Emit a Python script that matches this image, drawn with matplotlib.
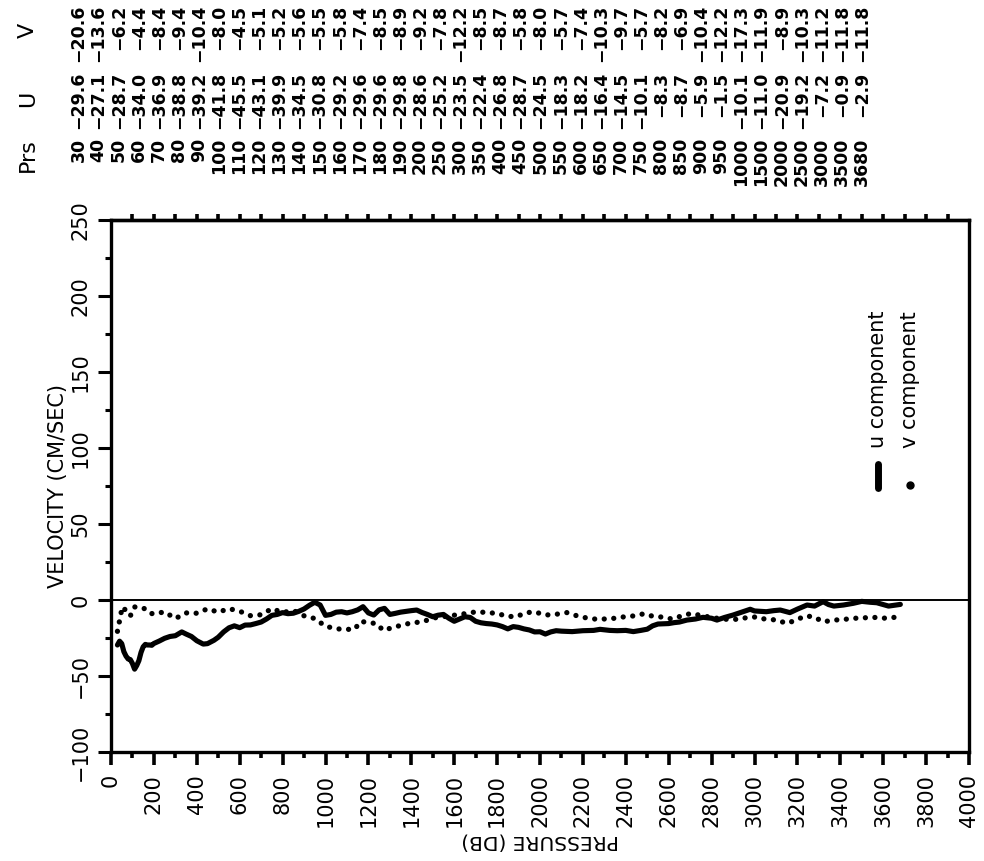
import numpy as np
import matplotlib
matplotlib.use("Agg")
import matplotlib.pyplot as plt
from matplotlib.ticker import MultipleLocator

# Listed current values (Prs in dbar, U and V in cm/s)
table_prs = [30, 40, 50, 60, 70, 80, 90, 100, 110, 120, 130, 140, 150, 160,
             170, 180, 190, 200, 250, 300, 350, 400, 450, 500, 550, 600, 650,
             700, 750, 800, 850, 900, 950, 1000, 1500, 2000, 2500, 3000, 3500,
             3680]
table_u = [-29.6, -27.1, -28.7, -34.0, -36.9, -38.8, -39.2, -41.8, -45.5,
           -43.1, -39.9, -34.5, -30.8, -29.2, -29.6, -29.6, -29.8, -28.6,
           -25.2, -23.5, -22.4, -26.8, -28.7, -24.5, -18.3, -18.2, -16.4,
           -14.5, -10.1, -8.3, -8.7, -5.9, -1.5, -10.1, -11.0, -20.9, -19.2,
           -7.2, -0.9, -2.9]
table_v = [-20.6, -13.6, -6.2, -4.4, -8.4, -9.4, -10.4, -8.0, -4.5, -5.1,
           -5.2, -5.6, -5.5, -5.8, -7.4, -8.5, -8.9, -9.2, -7.8, -12.2, -8.5,
           -8.7, -5.8, -8.0, -5.7, -7.4, -10.3, -9.7, -5.7, -8.2, -6.9, -10.4,
           -12.2, -17.3, -11.9, -8.9, -10.3, -11.2, -11.8, -11.8]

# profile levels in between the listed ones
extra_u_prs = [225, 275, 330, 375, 430, 480, 525, 575, 625, 675, 725, 775,
               825, 875, 925, 975, 1025, 1050, 1075, 1100, 1125, 1150, 1175,
               1200, 1225, 1250, 1275, 1300, 1325, 1350, 1375, 1400, 1425,
               1450, 1475, 1525, 1550, 1575, 1600, 1625, 1650, 1675, 1700,
               1725, 1750, 1775, 1800, 1825, 1850, 1875, 1900, 1925, 1950,
               1975, 2025, 2050, 2075, 2100, 2150, 2200, 2250, 2280, 2325,
               2360, 2400, 2435, 2470, 2525, 2550, 2600, 2625, 2650, 2685,
               2725, 2760, 2800, 2825, 2860, 2900, 2940, 2980, 3055, 3090,
               3120, 3165, 3200, 3245, 3280, 3320, 3345, 3370, 3415, 3460,
               3540, 3570, 3600, 3625, 3650]
extra_u = [-27.0, -24.0, -21.0, -24.0, -29.0, -26.5, -21.0, -17.0, -16.5,
           -15.5, -12.5, -9.5, -9.0, -7.5, -3.5, -3.3, -9.5, -8.0, -7.7, -8.5,
           -7.7, -6.5, -4.4, -8.5, -9.9, -6.5, -5.5, -9.5, -8.8, -8.0, -7.5,
           -7.0, -6.6, -8.2, -9.5, -10.0, -9.5, -12.0, -14.0, -12.5, -11.0,
           -11.5, -14.0, -15.0, -15.5, -15.8, -16.4, -17.5, -19.0, -17.5,
           -18.0, -19.0, -19.7, -21.0, -22.4, -21.0, -20.2, -20.5, -20.8,
           -20.2, -20.0, -19.3, -20.0, -20.2, -20.0, -20.8, -20.0, -17.0,
           -15.8, -15.5, -14.9, -14.5, -13.2, -12.5, -11.4, -12.0, -13.2,
           -11.5, -9.9, -8.0, -6.1, -7.7, -7.0, -6.6, -8.3, -6.0, -3.3, -4.0,
           -1.1, -3.0, -4.0, -3.3, -2.2, -1.5, -1.8, -3.0, -4.0, -3.5]

extra_v_prs = [1055, 1095, 1135, 1165, 1200, 1235, 1270, 1315, 1360, 1405,
               1450, 1550, 1600, 1650, 1705, 1755, 1800, 1845, 1890, 1935,
               1980, 2025, 2070, 2125, 2160, 2200, 2255, 2305, 2350, 2395,
               2435, 2480, 2530, 2575, 2615, 2660, 2705, 2760, 2825, 2870,
               2925, 2970, 3015, 3065, 3105, 3150, 3195, 3235, 3275, 3320,
               3375, 3420, 3470, 3555, 3600, 3645]
extra_v = [-19.0, -19.3, -19.3, -14.0, -15.0, -15.4, -20.0, -18.0, -16.4,
           -14.9, -14.5, -11.0, -10.0, -9.0, -7.7, -8.3, -8.8, -10.7, -11.0,
           -8.3, -7.9, -9.9, -9.5, -8.3, -9.9, -11.4, -12.5, -12.5, -12.0,
           -11.0, -10.5, -9.2, -10.5, -11.4, -12.5, -10.5, -8.8, -10.5, -12.0,
           -12.7, -12.7, -11.4, -12.0, -12.7, -13.2, -15.4, -13.2, -10.5,
           -11.0, -14.3, -13.2, -12.7, -12.0, -11.4, -12.0, -11.4]


def merge(p1, v1, p2, v2):
    p = np.concatenate([p1, p2]).astype(float)
    v = np.concatenate([v1, v2]).astype(float)
    order = np.argsort(p, kind="stable")
    return p[order], v[order]


prs_u, u_prof = merge(table_prs, table_u, extra_u_prs, extra_u)
prs_v, v_prof = merge(table_prs, table_v, extra_v_prs, extra_v)

W, H = 984, 861
fig = plt.figure(figsize=(W / 100, H / 100), dpi=100)
ax = fig.add_axes([111 / W, (H - 752) / H, 858 / W, 532 / H])

ax.plot(prs_u, u_prof, color="black", lw=3.7, solid_joinstyle="round",
        solid_capstyle="round")
ax.plot(prs_v, v_prof, color="black", lw=3.8, linestyle=(0, (0.01, 1.8)),
        dash_capstyle="round")
ax.axhline(0, color="black", lw=1.4)

ax.set_xlim(0, 4000)
ax.set_ylim(-100, 250)
ax.xaxis.set_major_locator(MultipleLocator(200))
ax.xaxis.set_minor_locator(MultipleLocator(100))
ax.yaxis.set_major_locator(MultipleLocator(50))
ax.yaxis.set_minor_locator(MultipleLocator(25))

for s in ax.spines.values():
    s.set_linewidth(2.4)

ax.tick_params(axis="x", which="major", length=9, width=2.6, pad=7,
               labelsize=15, labelrotation=90, direction="out")
ax.tick_params(axis="x", which="minor", length=4.5, width=2.6, direction="out")
ax.tick_params(axis="y", which="major", length=9.5, width=2.2, pad=5,
               labelsize=15, labelrotation=90, direction="out")
ax.tick_params(axis="y", which="minor", length=4.5, width=2.2, direction="out")
for lab in ax.get_yticklabels():
    lab.set_va("center")

top = ax.secondary_xaxis("top")
top.set_xticks(np.arange(100, 4000, 100))
top.tick_params(length=4.5, width=2.6, labeltop=False, direction="out")
top.spines["top"].set_linewidth(2.4)

ax.set_ylabel("VELOCITY (CM/SEC)", fontsize=15, labelpad=2)
ax.text(0.5, -0.168, "PRESSURE (DB)", transform=ax.transAxes, rotation=180,
        ha="center", va="center", fontsize=14.5)

# key
ax.plot([0.894, 0.894], [0.497, 0.541], transform=ax.transAxes,
        color="black", lw=5, solid_capstyle="round")
ax.plot([0.931], [0.502], transform=ax.transAxes, marker="o",
        color="black", ms=5)
ax.text(0.894, 0.571, "u component", transform=ax.transAxes, rotation=90,
        rotation_mode="anchor", ha="left", va="center", fontsize=15)
ax.text(0.931, 0.571, "v component", transform=ax.transAxes, rotation=90,
        rotation_mode="anchor", ha="left", va="center", fontsize=15)


# table of values across the top
def fy(px):
    return 1 - px / H


heads = [("Prs", 155), ("U", 99), ("V", 30)]
for name, yc in heads:
    fig.text(28 / W, fy(yc), name, rotation=90, ha="center", va="center",
             fontsize=16)

row_x = np.linspace(78.5, 862, len(table_prs))
for x, p, u, v in zip(row_x, table_prs, table_u, table_v):
    for txt, ytop in [(f"{p}", 138), (f"{u:.1f}".replace("-", "\u2212"), 72),
                      (f"{v:.1f}".replace("-", "\u2212"), 5)]:
        fig.text(x / W, fy(ytop), txt, rotation=90, rotation_mode="anchor",
                 ha="right", va="center", fontsize=12.5, fontweight="bold")

fig.savefig("out.png", dpi=100)
